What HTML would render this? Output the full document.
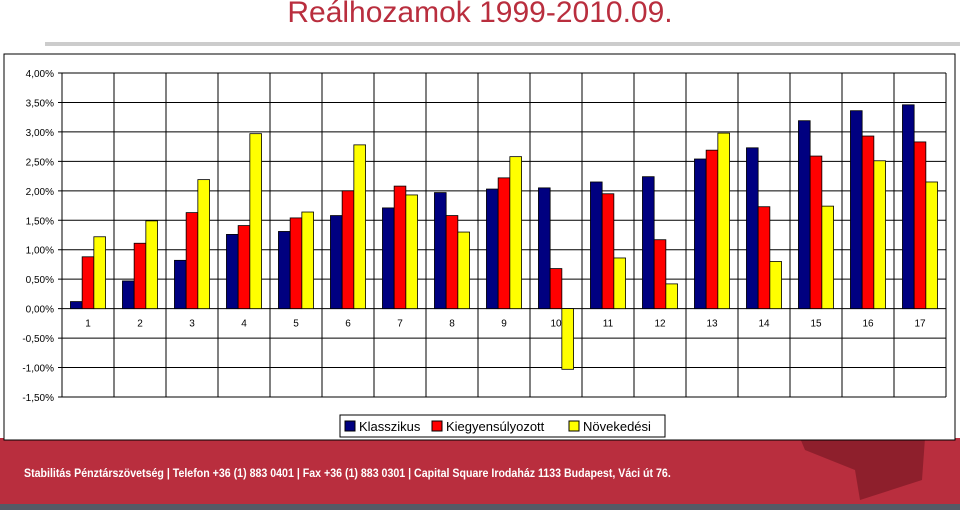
<!DOCTYPE html>
<html><head><meta charset="utf-8"><style>
body{margin:0;width:960px;height:510px;overflow:hidden;background:#fff;font-family:"Liberation Sans",sans-serif;position:relative}
#title{position:absolute;left:0;width:960px;top:-4px;text-align:center;color:#b92e3e;font-size:30px}
#footer{position:absolute;left:0;top:438px;width:960px;height:66px;background:#b92e3e}
#strip{position:absolute;left:0;top:504px;width:960px;height:6px;background:#555a66}
#ftext{position:absolute;left:24px;top:466px;color:#fff;font-size:12px;font-weight:bold;transform:scaleX(0.885);transform-origin:0 0;white-space:nowrap}
svg{position:absolute;left:0;top:0}
</style></head><body>
<div id="title">Reálhozamok 1999-2010.09.</div>
<div style="position:absolute;left:45px;top:42px;width:915px;height:4px;background:#ccc"></div>
<div id="footer"></div>
<div id="strip"></div>
<svg width="960" height="510" id="chart">
<path d="M800 438 L925 438 L922 480 L860 500 L855 470 L805 450 Z" fill="#8e1f2c"/>
<rect x="4" y="54" width="951" height="386" fill="#fff" stroke="#000" stroke-width="1"/>
<g id="g"></g>
</svg>
<div id="ftext">Stabilitás Pénztárszövetség | Telefon +36 (1) 883 0401 | Fax +36 (1) 883 0301 | Capital Square Irodaház 1133 Budapest, Váci út 76.</div>
<script>
const categories=["1","2","3","4","5","6","7","8","9","10","11","12","13","14","15","16","17"];
const klasszikus=[0.12,0.47,0.82,1.26,1.31,1.58,1.71,1.97,2.03,2.05,2.15,2.24,2.54,2.73,3.19,3.36,3.46];
const kiegyensulyozott=[0.88,1.11,1.63,1.41,1.54,2.00,2.08,1.58,2.22,0.68,1.95,1.17,2.69,1.73,2.59,2.93,2.83];
const novekedesi=[1.22,1.49,2.19,2.97,1.64,2.78,1.93,1.30,2.58,-1.03,0.86,0.42,2.98,0.80,1.74,2.51,2.15];
const yTicks=[4,3.5,3,2.5,2,1.5,1,0.5,0,-0.5,-1,-1.5];
const seriesNames=["Klasszikus","Kiegyensúlyozott","Növekedési"];
const colors=["#000080","#ff0000","#ffff00"];
const NS="http://www.w3.org/2000/svg",g=document.getElementById('g');
const L=62,R=946,T=73,B=397,ymin=-1.5,ymax=4;
const y=v=>B-(v-ymin)/(ymax-ymin)*(B-T);
const gw=(R-L)/categories.length;
const x=i=>L+i*gw;
function mk(t,a){const e=document.createElementNS(NS,t);for(const k in a)e.setAttribute(k,a[k]);g.appendChild(e);return e;}
yTicks.forEach(v=>{
 const l=mk('line',{x1:L-4,x2:R,y1:y(v),y2:y(v),stroke:'#000','stroke-width':1});
 
 
 const t=mk('text',{x:L-8,y:y(v)+4,'text-anchor':'end','font-size':10,fill:'#000'});
 t.textContent=v.toFixed(2).replace('.',',')+'%';
 
 
});
for(let i=0;i<=categories.length;i++){
 const l=mk('line',{x1:x(i),x2:x(i),y1:T,y2:B,stroke:'#000','stroke-width':1});
 
 
}
const series=[klasszikus,kiegyensulyozott,novekedesi];
const bw=11.7,off=(gw-3*bw)/2;
categories.forEach((c,i)=>{
 series.forEach((s,k)=>{
  const v=s[i],y0=y(0),y1=y(v);
  const r=mk('rect',{x:x(i)+off+k*bw,y:Math.min(y0,y1),width:bw,height:Math.abs(y1-y0),fill:colors[k],stroke:'#000','stroke-width':0.8});
  
  
 });
 const t=mk('text',{x:x(i)+gw/2,y:y(0)+18,'text-anchor':'middle','font-size':10,fill:'#000'});
 t.textContent=c;
 
 
});
const lg=mk('rect',{x:340,y:415,width:325,height:22,fill:'#fff',stroke:'#000'});


const lx=[345,432,569];
seriesNames.forEach((n,k)=>{
 const s=mk('rect',{x:lx[k],y:421,width:10,height:10,fill:colors[k],stroke:'#000'});
 
 
 const t=mk('text',{x:lx[k]+14,y:431,'font-size':13,fill:'#000'});
 t.textContent=n;
 
 
});
</script>
</body></html>
